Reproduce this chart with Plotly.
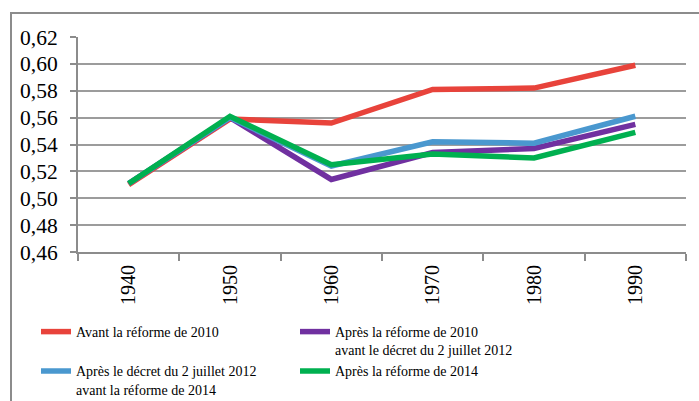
import plotly.graph_objects as go

years = ["1940", "1950", "1960", "1970", "1980", "1990"]
avant_2010 = [0.510, 0.559, 0.556, 0.581, 0.582, 0.599]
apres_2010 = [0.511, 0.560, 0.514, 0.534, 0.537, 0.555]
apres_decret_2012 = [0.511, 0.560, 0.524, 0.542, 0.541, 0.561]
apres_2014 = [0.511, 0.561, 0.525, 0.533, 0.530, 0.549]

series = [
    ("Avant la réforme de 2010", avant_2010, "#E8433B"),
    ("Après la réforme de 2010<br>avant le décret du 2 juillet 2012", apres_2010, "#7030A0"),
    ("Après le décret du 2 juillet 2012<br>avant la réforme de 2014", apres_decret_2012, "#4A98CF"),
    ("Après la réforme de 2014", apres_2014, "#00B050"),
]

W, H = 699, 401
L, R, T, B = 78, 13, 37, 149
pw, ph = W - L - R, H - T - B

fig = go.Figure()
for name, vals, col in series:
    fig.add_trace(go.Scatter(
        x=years, y=vals, name=name, mode="lines",
        line=dict(color=col, width=5.5),
    ))

serif = "Times New Roman, Liberation Serif, serif"

fig.update_layout(
    width=W, height=H,
    margin=dict(l=L, r=R, t=T, b=B, autoexpand=False),
    paper_bgcolor="white", plot_bgcolor="white",
    font=dict(family=serif, color="black"),
    xaxis=dict(
        type="category", tickangle=-90, automargin=False,
        showgrid=False, showline=True, linecolor="#8c8c8c", linewidth=2,
        ticks="outside", tickson="boundaries", ticklen=7, tickcolor="#8c8c8c", tickwidth=2,
        tickfont=dict(size=20, family=serif, color="black"), ticklabelstandoff=3,
        range=[-0.5, 5.5],
    ),
    yaxis=dict(
        range=[0.46, 0.62], dtick=0.02, tickformat=".2f", automargin=False,
        showgrid=True, gridcolor="#9c9c9c", gridwidth=2,
        showline=True, linecolor="#8c8c8c", linewidth=2,
        ticks="outside", ticklen=6, tickcolor="#8c8c8c", tickwidth=2,
        tickfont=dict(size=21.5, family=serif, color="black"), zeroline=False,
        ticklabelstandoff=8,
    ),
    separators=", ",
    legend=dict(
        orientation="h", xref="container", yref="container",
        x=36 / W, y=1 - 316 / H,
        xanchor="left", yanchor="top",
        font=dict(size=14, family=serif, color="black"),
        entrywidth=214, entrywidthmode="pixels",
        valign="top", tracegroupgap=0, itemwidth=30,
        bgcolor="rgba(0,0,0,0)",
    ),
    showlegend=True,
)

# chart-area frame
fig.add_shape(
    type="rect", xref="paper", yref="paper",
    x0=(11 - L) / pw, x1=(W + 10 - L) / pw,
    y0=(T + ph - (H + 10)) / ph, y1=(T + ph - 13) / ph,
    line=dict(color="#8c8c8c", width=2), fillcolor="rgba(0,0,0,0)", layer="below",
)

fig.write_html("out.html")
